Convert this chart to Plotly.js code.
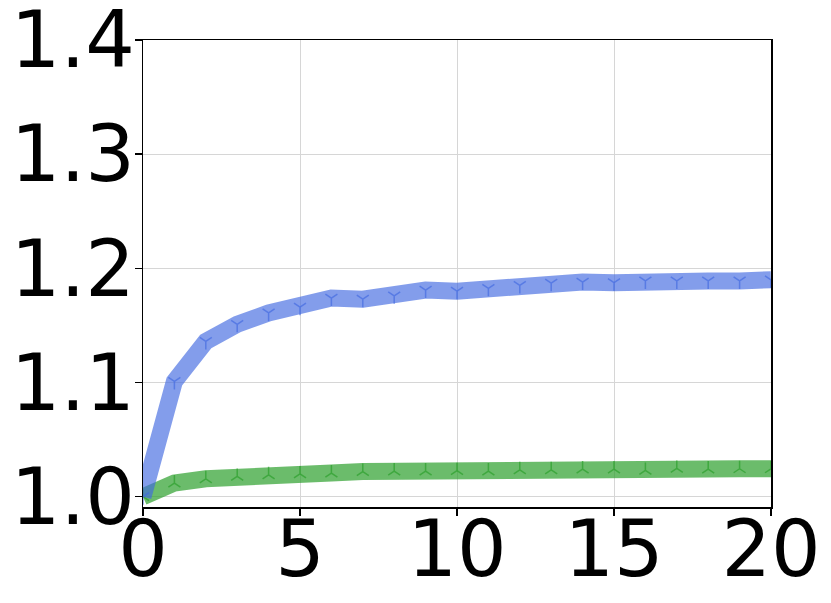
<!DOCTYPE html>
<html>
<head>
<meta charset="utf-8">
<script src="https://cdn.plot.ly/plotly-3.0.1.min.js"></script>
<style>html,body{margin:0;padding:0;background:#fff;}#chart{width:831px;height:603px;}</style>
</head>
<body>
<div id="chart"></div>
<script>
const steps = [0,1,2,3,4,5,6,7,8,9,10,11,12,13,14,15,16,17,18,19,20];
const blueValues = [1.000,1.101,1.136,1.151,1.161,1.166,1.174,1.173,1.176,1.181,1.180,1.1825,1.185,1.187,1.188,1.1875,1.189,1.189,1.189,1.189,1.190];
const greenValues = [1.000,1.012,1.0157,1.0178,1.0192,1.020,1.0207,1.022,1.0225,1.0225,1.0228,1.0225,1.0236,1.0236,1.0242,1.0242,1.023,1.0248,1.0242,1.0245,1.0245];
const xTicks = [0,5,10,15,20];
const yTicks = [1.0,1.1,1.2,1.3,1.4];
const yTickLabels = ['1.0','1.1','1.2','1.3','1.4'];

const blueC = 'rgba(65,105,225,0.65)';
const greenC = 'rgba(44,160,44,0.7)';

const traces = [
  {x: steps, y: greenValues, type: 'scatter', mode: 'lines+markers',
   line: {color: greenC, width: 17},
   marker: {symbol: 'y-up', size: 10, color: greenC, line: {color: greenC, width: 1.5}}},
  {x: steps, y: blueValues, type: 'scatter', mode: 'lines+markers',
   line: {color: blueC, width: 17},
   marker: {symbol: 'y-down', size: 10, color: blueC, line: {color: blueC, width: 1.5}}}
];

const axisFont = {family: 'DejaVu Sans', size: 78, color: '#000'};
const layout = {
  width: 831, height: 603,
  margin: {l: 143, r: 60, t: 40, b: 96, pad: 0},
  paper_bgcolor: '#fff', plot_bgcolor: '#fff',
  showlegend: false,
  xaxis: {range: [0, 20], tickvals: xTicks, ticktext: xTicks.map(String),
    showgrid: true, gridcolor: '#d6d6d6', gridwidth: 1,
    showline: true, linecolor: '#000', linewidth: 1.5, mirror: true,
    ticks: 'outside', ticklen: 7, tickwidth: 1.5, tickcolor: '#000',
    tickfont: axisFont, zeroline: false,
    ticklabelstandoff: -33, ticklabeloverflow: 'allow'},
  yaxis: {range: [0.991, 1.4], tickvals: yTicks, ticktext: yTickLabels,
    showgrid: true, gridcolor: '#d6d6d6', gridwidth: 1,
    showline: true, linecolor: '#000', linewidth: 1.5, mirror: true,
    ticks: 'outside', ticklen: 7, tickwidth: 1.5, tickcolor: '#000',
    tickfont: axisFont, zeroline: false,
    ticklabelstandoff: -16, ticklabeloverflow: 'allow'}
};
Plotly.newPlot('chart', traces, layout, {staticPlot: true});
</script>
</body>
</html>
